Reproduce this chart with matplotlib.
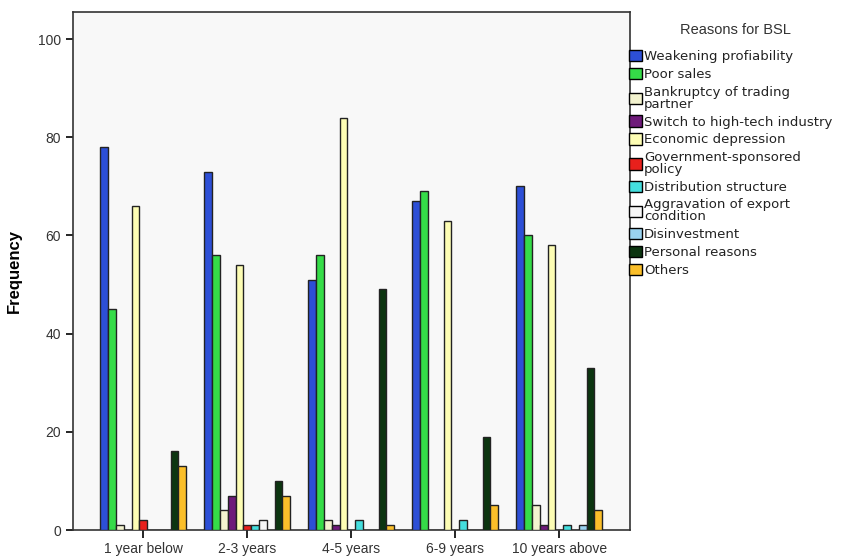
import numpy as np
import matplotlib
matplotlib.use('Agg')
from matplotlib import pyplot as plt
from matplotlib.patches import Patch

plt.rcParams['font.family'] = ['Liberation Sans', 'DejaVu Sans']

categories = ['1 year below', '2-3 years', '4-5 years', '6-9 years', '10 years above']

weakening = [78, 73, 51, 67, 70]
poor_sales = [45, 56, 56, 69, 60]
bankruptcy = [1, 4, 2, 0, 5]
switch_tech = [0, 7, 1, 0, 1]
econ_depression = [66, 54, 84, 63, 58]
gov_policy = [2, 1, 0, 0, 0]
distribution = [0, 1, 2, 2, 1]
aggravation = [0, 2, 0, 0, 0]
disinvestment = [0, 0, 0, 0, 1]
personal = [16, 10, 49, 19, 33]
others = [13, 7, 1, 5, 4]

labels = ['Weakening profiability', 'Poor sales', 'Bankruptcy of trading\npartner',
          'Switch to high-tech industry', 'Economic depression',
          'Government-sponsored\npolicy', 'Distribution structure',
          'Aggravation of export\ncondition', 'Disinvestment', 'Personal reasons', 'Others']
series = [weakening, poor_sales, bankruptcy, switch_tech, econ_depression, gov_policy,
          distribution, aggravation, disinvestment, personal, others]
colors = ['#2d4fd6', '#35dc48', '#f3f3cf', '#6e1a7a', '#fdfdb4', '#e8201c',
          '#44dede', '#f6f6f6', '#9ad3f0', '#0c3510', '#fbbf2a']

fig = plt.figure(figsize=(8.53, 5.57), dpi=100)
fig.patch.set_facecolor('white')
ax = fig.add_axes([73/853, 1-530/557, (630-73)/853, (530-12)/557])
ax.set_facecolor('#f8f8f8')

x = np.arange(len(categories))
w = 0.075
for i, (vals, c) in enumerate(zip(series, colors)):
    ax.bar(x + (i - 5) * w, vals, width=w, color=c, edgecolor='#222222', linewidth=1.0, zorder=3)

ax.set_xlim(-0.675, 4.68)
ax.set_ylim(0, 105.5)
ax.set_yticks([0, 20, 40, 60, 80, 100])
ax.set_xticks(x)
ax.set_xticklabels(categories, fontsize=10, color='#333333')
ax.tick_params(axis='y', labelsize=10, labelcolor='#333333', length=5, width=1.2, direction='out')
ax.tick_params(axis='x', length=6, width=1.2, direction='out', pad=2.5)
for s in ax.spines.values():
    s.set_color('#333333')
    s.set_linewidth(1.2)
ax.set_ylabel('Frequency', fontsize=12, fontweight='bold', labelpad=12)

handles = [Patch(facecolor=c, edgecolor='black', linewidth=1) for c in colors]
leg = fig.legend(handles, labels, loc='upper left', bbox_to_anchor=(629/853, 1-50/557),
                 frameon=False, prop={'family': 'DejaVu Sans', 'size': 9.5},
                 handlelength=0.95, handleheight=0.95,
                 handletextpad=0.2, labelspacing=0.35, borderaxespad=0, borderpad=0)
for t in leg.get_texts():
    t.set_linespacing(0.9)
    t.set_color('#222222')
fig.text(735/853, 1-30/557, 'Reasons for BSL', ha='center', va='center', fontsize=10.5, color='#333333')

plt.savefig('out.png', dpi=100)
